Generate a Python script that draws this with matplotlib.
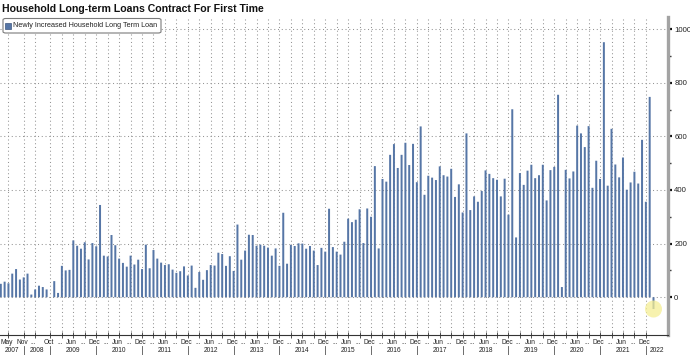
import numpy as np
import matplotlib
matplotlib.use("Agg")
import matplotlib.pyplot as plt
import matplotlib.transforms as mtransforms
from matplotlib.patches import FancyBboxPatch, Rectangle

plt.rcParams['font.family'] = ['Liberation Sans', 'DejaVu Sans']

title = "Household Long-term Loans Contract For First Time"
series_name = "Newly Increased Household Long Term Loan"

years = ["2007", "2008", "2009", "2010", "2011", "2012", "2013", "2014",
         "2015", "2016", "2017", "2018", "2019", "2020", "2021", "2022"]

# values (CNY bn), one list per year
v2007 = [50, 58, 52, 88, 105, 66, 74]
v2008 = [88, 10, 29, 43, 38, 29, np.nan]
v2009 = [60, 16, 117, 100, 102, 212, 192, 181, 205, 141, 202, 190]
v2010 = [344, 155, 152, 232, 194, 144, 128, 114, 155, 122, 140, 105]
v2011 = [196, 108, 176, 144, 129, 120, 123, 103, 91, 97, 115, 81]
v2012 = [118, 35, 94, 65, 101, 120, 118, 166, 161, 117, 153, 98]
v2013 = [271, 140, 174, 233, 232, 192, 196, 192, 185, 155, 182, 117]
v2014 = [315, 125, 195, 191, 201, 200, 181, 191, 174, 120, 184, 170]
v2015 = [330, 187, 170, 159, 207, 293, 280, 289, 328, 202, 331, 300]
v2016 = [489, 182, 441, 431, 531, 571, 482, 531, 576, 493, 572, 429]
v2017 = [637, 382, 453, 446, 437, 488, 455, 450, 479, 374, 421, 316]
v2018 = [611, 325, 376, 356, 396, 473, 460, 444, 438, 376, 442, 308]
v2019 = [701, 223, 463, 419, 472, 494, 444, 455, 494, 361, 474, 486]
v2020 = [755, 38, 475, 443, 469, 640, 611, 560, 638, 408, 509, 441]
v2021 = [951, 416, 628, 495, 447, 521, 401, 428, 468, 424, 587, 356]
v2022 = [747, -44]

series = [v2007, v2008, v2009, v2010, v2011, v2012, v2013, v2014,
          v2015, v2016, v2017, v2018, v2019, v2020, v2021, v2022]

early_tick_labels = ["May", "Nov", "...", "Oct"]
early_tick_slots = [2, 6, 9, 13]
quarter_labels = ["...", "Jun", "...", "Dec"]
quarter_months = [3, 6, 9, 12]

values = np.concatenate([np.array(s, dtype=float) for s in series])
x = np.arange(len(values))

W, H = 690, 355
fig = plt.figure(figsize=(W / 100, H / 100), dpi=100)
ax_top, ax_bot, ax_right = 17, 334.5, 668
ax = fig.add_axes([0, 1 - ax_bot / H, ax_right / W, (ax_bot - ax_top) / H])

bar_color = "#5676a6"
bars = ax.bar(x, values, width=0.52, color=bar_color, zorder=2, linewidth=0)
for b in bars:
    b.set_snap(False)

ax.set_xlim(-0.21, 174.8)
ax.set_ylim(-139, 1045)

# year boundaries
lens = [len(s) for s in series]
starts = np.cumsum([0] + lens[:-1])
ends = np.cumsum(lens) - 1

# ticks
tick_pos = list(early_tick_slots)
tick_lab = list(early_tick_labels)
for yi, s in enumerate(series):
    if yi < 2:
        continue
    for m, lab in zip(quarter_months, quarter_labels):
        if m <= len(s):
            tick_pos.append(starts[yi] + m - 1)
            tick_lab.append(lab)

ax.set_xticks(tick_pos)
ax.set_xticklabels([])
ax.tick_params(axis='x', direction='inout', length=4, width=0.6, color='#333333')

ax.set_yticks(np.arange(0, 1001, 200))
ax.set_yticks(np.arange(100, 1000, 200), minor=True)
ax.yaxis.tick_right()
ax.tick_params(axis='y', which='major', direction='out', length=3, width=1.6,
               color='#111111', labelsize=5.6, pad=1.5, labelcolor='#222222')
ax.tick_params(axis='y', which='minor', direction='out', length=1.8, width=1.0,
               color='#333333')

grid_style = dict(linestyle=(0, (1, 2.6)), color='#959595', linewidth=0.75)
ax.yaxis.grid(True, which='major', **grid_style)
ax.xaxis.grid(True, which='major', **grid_style)
ax.set_axisbelow(True)

for sp in ['left', 'top']:
    ax.spines[sp].set_visible(False)
ax.spines['right'].set_color('#a3a3a3')
ax.spines['right'].set_linewidth(2.4)
ax.spines['bottom'].set_color('#333333')
ax.spines['bottom'].set_linewidth(0.8)

# highlight of last value
ax.scatter([x[-1]], [values[-1]], s=150, color='#f5ee94', alpha=0.75,
           edgecolors='none', zorder=3)

# month labels and year row
trans = mtransforms.blended_transform_factory(ax.transData, fig.transFigure)
def fy(px):
    return 1 - px / H

for p, lab in zip(tick_pos, tick_lab):
    ax.text(p - 0.4, fy(342), lab, transform=trans, ha='center', va='center',
            fontsize=4.8, color='#222222', clip_on=False)

xl0, xl1 = ax.get_xlim()
bounds = [xl0] + [float(e) for e in ends[:-1]] + [xl1]
for i, yr in enumerate(years):
    c = 0.5 * (bounds[i] + bounds[i + 1])
    ax.text(c, fy(350.8), yr, transform=trans, ha='center', va='center',
            fontsize=4.8, color='#222222', clip_on=False)
for e in ends[:-1]:
    ax.plot([e, e], [fy(346), fy(355)], transform=trans, color='#555555',
            linewidth=0.6, clip_on=False)

# title
fig.text(2 / W, fy(11.8), title, fontsize=7.6, fontweight='bold',
         ha='left', va='baseline', color='#111111')

# legend box
box = FancyBboxPatch((3 / W, fy(33)), 158 / W, 14.5 / H,
                     boxstyle="round,pad=0,rounding_size=0.004",
                     transform=fig.transFigure, facecolor='white',
                     edgecolor='#7a7a7a', linewidth=0.8, zorder=10)
fig.add_artist(box)
sq = Rectangle((5.2 / W, fy(28.6)), 5.6 / W, 5.6 / H, transform=fig.transFigure,
               facecolor=bar_color, edgecolor='#3d5680', linewidth=0.5, zorder=11)
fig.add_artist(sq)
fig.text(13.3 / W, fy(25.6), series_name, fontsize=5.2, ha='left', va='center',
         color='#222222', zorder=12)

fig.savefig("out.png", dpi=100)
